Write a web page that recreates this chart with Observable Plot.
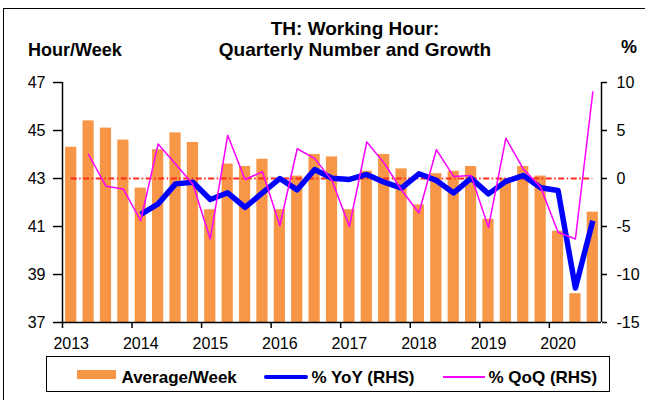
<!DOCTYPE html>
<html>
<head>
<meta charset="utf-8">
<script src="https://cdn.jsdelivr.net/npm/d3@7"></script>
<script src="https://cdn.jsdelivr.net/npm/@observablehq/plot@0.6"></script>
<style>
  html, body { margin: 0; padding: 0; }
  body { width: 645px; height: 400px; overflow: hidden; background: #fff; position: relative;
         font-family: "Liberation Sans", Arial, sans-serif; color: #000; }
  #frame { position: absolute; left: 3px; top: 8px; width: 660px; height: 420px;
           border-left: 1.5px solid #000; border-top: 1.5px solid #000; }
  .t { position: absolute; font-weight: bold; white-space: nowrap; }
  #title { left: 205px; width: 300px; top: 18px; text-align: center; font-size: 19px; line-height: 21px; }
  #lunit { left: 28px; top: 40px; font-size: 18px; line-height: 20px; }
  #runit { left: 621px; top: 37px; font-size: 18px; line-height: 20px; }
  #chart { position: absolute; left: 0; top: 0; }
  #legend { position: absolute; left: 46px; top: 356px; width: 564px; height: 36px;
            border: 1.5px solid #000; box-sizing: border-box; background: #fff; }
  .sw { position: absolute; }
  .lt { position: absolute; top: 10.5px; font-size: 17px; line-height: 20px; font-weight: bold; white-space: nowrap; }
</style>
</head>
<body>
<div id="frame"></div>
<div id="chart"></div>
<div class="t" id="title">TH: Working Hour:<br>Quarterly Number and Growth</div>
<div class="t" id="lunit">Hour/Week</div>
<div class="t" id="runit">%</div>
<div id="legend"></div>
<script>
// ---- data ----
const periods = [
  "2013Q1","2013Q2","2013Q3","2013Q4",
  "2014Q1","2014Q2","2014Q3","2014Q4",
  "2015Q1","2015Q2","2015Q3","2015Q4",
  "2016Q1","2016Q2","2016Q3","2016Q4",
  "2017Q1","2017Q2","2017Q3","2017Q4",
  "2018Q1","2018Q2","2018Q3","2018Q4",
  "2019Q1","2019Q2","2019Q3","2019Q4",
  "2020Q1","2020Q2","2020Q3"
];
const hours = [
  44.3, 45.4, 45.1, 44.6,
  42.6, 44.2, 44.9, 44.5,
  41.7, 43.6, 43.5, 43.8,
  41.7, 43.1, 44.0, 43.9,
  41.7, 43.3, 44.0, 43.4,
  41.9, 43.2, 43.3, 43.5,
  41.3, 43.0, 43.5, 43.1,
  40.8, 38.2, 41.6
];
// % YoY (RHS), from 2014Q1
const yoyPeriods = periods.slice(4);
const yoy = [
  -3.75, -2.64, -0.56, -0.38,
  -2.19, -1.49, -3.0, -1.5,
  0.0, -1.18, 0.94, 0.03,
  -0.1, 0.42, -0.38, -1.0,
  0.49, -0.2, -1.5, 0.03,
  -1.6, -0.3, 0.3, -0.97,
  -1.25, -11.4, -4.4
];
// % QoQ (RHS), from 2013Q2
const qoqPeriods = periods.slice(1);
const qoq = [
  2.5, -0.8, -1.1,
  -4.4, 3.6, 1.5, -0.6,
  -6.3, 4.5, -0.1, 0.7,
  -4.9, 3.1, 2.1, -0.2,
  -5.0, 3.8, 1.6, -1.2,
  -3.6, 3.0, 0.2, 0.3,
  -5.1, 4.2, 1.0, -0.9,
  -5.6, -6.3, 9.0
];
const leftTicks = [37, 39, 41, 43, 45, 47];
const rightTicks = [-15, -10, -5, 0, 5, 10];
const yearLabels = [2013, 2014, 2015, 2016, 2017, 2018, 2019, 2020];
const seriesNames = ["Average/Week", "% YoY (RHS)", "% QoQ (RHS)"];
const colors = { bar: "#F79646", yoy: "#0000FF", qoq: "#FF00FF", ref: "#FF2A1A" };

// ---- helpers ----
const toT = p => +p.slice(0, 4) + (+p.slice(5) - 1) / 4;
const rhs = d3.scaleLinear([-15, 10], [37, 47]); // RHS % -> LHS hours position
const barData = periods.map((p, i) => ({ t: toT(p), v: hours[i] }));
const yoyData = yoyPeriods.map((p, i) => ({ t: toT(p) + 0.125, v: yoy[i] }));
const qoqData = qoqPeriods.map((p, i) => ({ t: toT(p) + 0.125, v: qoq[i] }));
const tStart = toT(periods[0]);
const tEnd = toT(periods[periods.length - 1]) + 0.25;

const chart = Plot.plot({
  width: 645,
  height: 356,
  marginTop: 82,
  marginBottom: 34,
  marginLeft: 62,
  marginRight: 44,
  style: { fontFamily: "'Liberation Sans', Arial, sans-serif", fontSize: "16px", color: "#000", background: "transparent", overflow: "visible" },
  x: { domain: [tStart, tEnd], axis: null, label: null },
  y: { domain: [leftTicks[0], leftTicks[leftTicks.length - 1]], axis: null, label: null },
  marks: [
    Plot.rect(barData, { x1: "t", x2: d => d.t + 0.25, y1: leftTicks[0], y2: "v", fill: colors.bar, insetLeft: 3.1, insetRight: 3.1 }),
    Plot.ruleY([rhs(0)], { x1: tStart + 0.125, x2: tEnd - 0.125, stroke: colors.ref, strokeWidth: 2, strokeDasharray: "6,2.5,1.5,2.5" }),
    Plot.line(yoyData, { x: "t", y: d => rhs(d.v), stroke: colors.yoy, strokeWidth: 5.5, strokeLinejoin: "round", strokeLinecap: "butt" }),
    Plot.line(qoqData, { x: "t", y: d => rhs(d.v), stroke: colors.qoq, strokeWidth: 1.5 }),
    Plot.ruleX([tStart, tEnd], { stroke: "#000", strokeWidth: 1.5 }),
    Plot.ruleY([leftTicks[0]], { stroke: "#000", strokeWidth: 1.5 }),
    Plot.axisY({ anchor: "left", label: null, ticks: leftTicks, tickSize: 9, tickPadding: 8, tickFormat: d => String(d), strokeWidth: 1.5 }),
    Plot.axisY({ anchor: "right", label: null, ticks: rightTicks.map(v => rhs(v)), tickSize: 5, tickPadding: 10,
                 tickFormat: d => String(Math.round(rhs.invert(d))), strokeWidth: 1.5 }),
    Plot.axisX({ anchor: "bottom", label: null, ticks: yearLabels, tickSize: 6, tickFormat: () => "", strokeWidth: 1.5 }),
    Plot.axisX({ anchor: "bottom", label: null, ticks: yearLabels.map(y => y + 0.125), tickSize: 0, tickPadding: 15, tickFormat: d => String(Math.floor(d)) })
  ]
});
document.getElementById("chart").appendChild(chart);

// ---- legend ----
const legend = document.getElementById("legend");
const legItems = [
  { sw: { left: 30, top: 14, width: 39, height: 9, background: colors.bar }, textLeft: 74.5, name: seriesNames[0] },
  { sw: { left: 217, top: 19, width: 44, height: 4.5, background: colors.yoy, borderRadius: "2px" }, textLeft: 264.5, name: seriesNames[1] },
  { sw: { left: 396, top: 20.5, width: 42, height: 1.5, background: colors.qoq }, textLeft: 441.5, name: seriesNames[2] }
];
for (const it of legItems) {
  const s = document.createElement("div");
  s.className = "sw";
  Object.assign(s.style, { left: it.sw.left + "px", top: (it.sw.top - 1.5) + "px", width: it.sw.width + "px", height: it.sw.height + "px", background: it.sw.background, borderRadius: it.sw.borderRadius || "0" });
  legend.appendChild(s);
  const t = document.createElement("div");
  t.className = "lt";
  t.style.left = it.textLeft + "px";
  t.textContent = it.name;
  legend.appendChild(t);
}
</script>
</body>
</html>
